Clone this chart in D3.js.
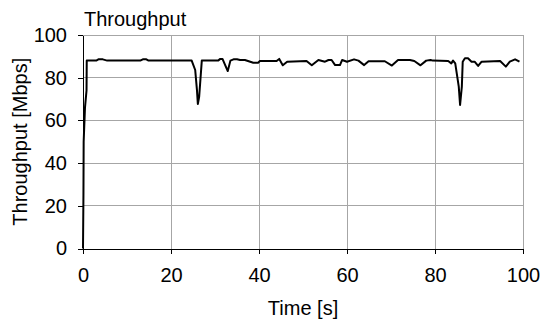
<!DOCTYPE html>
<html>
<head>
<meta charset="utf-8">
<script src="https://cdn.jsdelivr.net/npm/d3@7"></script>
<style>
  body { margin: 0; background: #fff; }
  svg text { font-family: "Liberation Sans", Arial, sans-serif; fill: #000; }
</style>
</head>
<body>
<div id="chart"></div>
<script>
// time [s] and throughput [Mbps]
const times = [0, 0.1, 0.15, 0.45, 0.8, 0.85, 3.0, 3.5, 4.5, 5.5, 6.2, 13.0, 13.6, 14.4, 14.9,
  24.7, 25.5, 25.9, 26.1, 26.4, 27.0, 30.7, 31.2, 31.7, 32.9, 33.5, 34.2, 35.0, 35.7, 36.8,
  38.7, 39.8, 40.2, 44.0, 44.6, 45.4, 46.4, 50.8, 52.0, 53.5, 55.0, 55.8, 56.5, 57.3, 58.4,
  58.9, 60.0, 61.6, 62.6, 63.9, 64.9, 68.6, 70.2, 71.6, 74.3, 75.3, 76.7, 78.0, 79.0, 79.5,
  83.0, 83.7, 84.1, 84.6, 85.4, 85.7, 86.1, 86.3, 86.8, 87.5, 88.3, 89.0, 89.8, 90.6, 94.8,
  96.1, 97.0, 98.2, 99.2];
const throughput = [0, 25, 50, 66, 74, 88.0, 88.0, 88.6, 88.6, 88.0, 88.0, 88.0, 88.6, 88.6, 88.0,
  88.0, 83.6, 74.2, 67.7, 71.1, 88.0, 88.0, 88.8, 88.8, 83.1, 88.0, 88.6, 88.6, 88.3, 88.3,
  87.0, 87.0, 87.8, 87.8, 88.8, 85.8, 87.5, 87.8, 85.8, 88.3, 87.5, 88.3, 88.3, 85.9, 85.9,
  88.3, 87.5, 88.6, 88.0, 85.9, 87.7, 87.7, 85.7, 88.3, 88.3, 87.8, 85.8, 88.0, 88.3, 88.0,
  87.8, 86.7, 88.0, 86.7, 75.8, 67.2, 75.8, 87.5, 89.1, 89.1, 87.5, 87.5, 85.5, 87.5, 87.8,
  85.2, 87.5, 88.6, 87.5];
const xTicks = [0, 20, 40, 60, 80, 100];
const yTicks = [0, 20, 40, 60, 80, 100];

const W = 542, H = 320;
const margin = {top: 35, right: 19, bottom: 71.5, left: 83};
const fontSize = 20;

const svg = d3.select("#chart").append("svg")
  .attr("width", W).attr("height", H);

const x = d3.scaleLinear().domain([0, 100]).range([margin.left, W - margin.right]);
const y = d3.scaleLinear().domain([0, 100]).range([H - margin.bottom, margin.top]);

// gridlines
svg.append("g").selectAll("line").data(yTicks.filter(d => d > 0)).join("line")
  .attr("x1", x(0)).attr("x2", x(100))
  .attr("y1", d => y(d)).attr("y2", d => y(d))
  .attr("stroke", "#a6a6a6").attr("stroke-width", 1).attr("shape-rendering", "crispEdges");
svg.append("g").selectAll("line").data(xTicks.filter(d => d > 0)).join("line")
  .attr("y1", y(0)).attr("y2", y(100))
  .attr("x1", d => x(d)).attr("x2", d => x(d))
  .attr("stroke", "#a6a6a6").attr("stroke-width", 1).attr("shape-rendering", "crispEdges");

// axes
const xAxis = svg.append("g")
  .attr("transform", `translate(0,${y(0)})`)
  .call(d3.axisBottom(x).tickValues(xTicks).tickSize(5).tickSizeOuter(0).tickPadding(14));
const yAxis = svg.append("g")
  .attr("transform", `translate(${x(0)},0)`)
  .call(d3.axisLeft(y).tickValues(yTicks).tickSize(5).tickSizeOuter(0).tickPadding(11));
[xAxis, yAxis].forEach(a => {
  a.selectAll("path, line").attr("stroke", "#000").attr("shape-rendering", "crispEdges");
  a.selectAll("text").attr("font-size", fontSize).attr("font-family", "Liberation Sans, Arial, sans-serif").attr("fill", "#000");
});

// the line
svg.append("path")
  .datum(times.map((t, i) => [t, throughput[i]]))
  .attr("fill", "none")
  .attr("stroke", "#000")
  .attr("stroke-width", 2)
  .attr("stroke-linejoin", "round")
  .attr("d", d3.line().x(d => x(d[0])).y(d => y(d[1])));

// labels
svg.append("text").attr("x", 84).attr("y", 26).attr("font-size", fontSize).text("Throughput");
svg.append("text").attr("x", (x(0) + x(100)) / 2).attr("y", 315)
  .attr("text-anchor", "middle").attr("font-size", fontSize).text("Time [s]");
svg.append("text")
  .attr("transform", `translate(27,${(y(0) + y(100)) / 2}) rotate(-90)`)
  .attr("text-anchor", "middle").attr("font-size", fontSize).text("Throughput [Mbps]");
</script>
</body>
</html>
